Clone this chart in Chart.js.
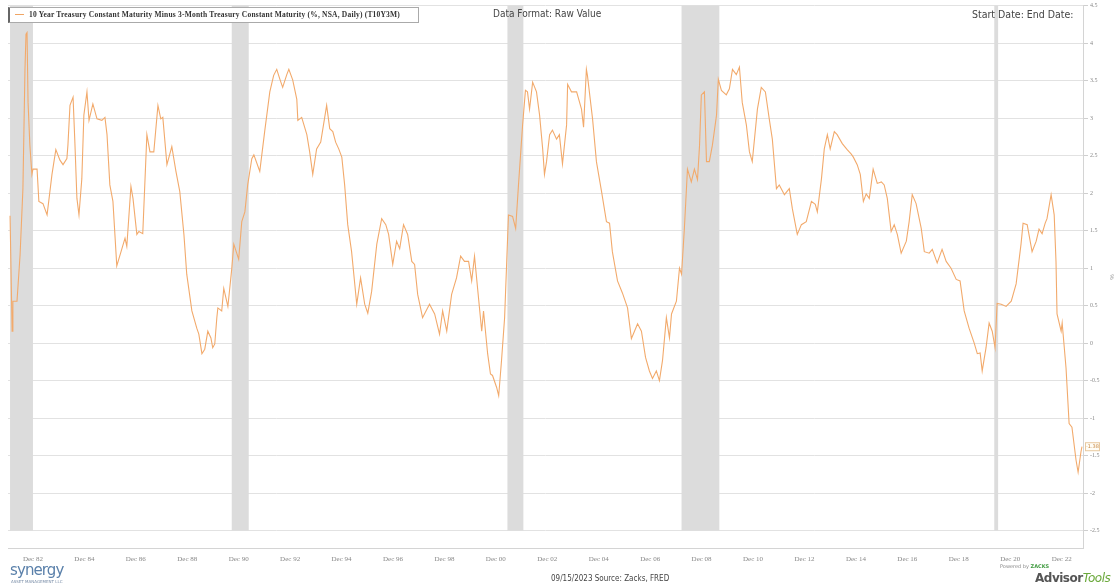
<!DOCTYPE html>
<html>
<head>
<meta charset="utf-8">
<script src="https://cdn.jsdelivr.net/npm/chart.js@4.4.1/dist/chart.umd.min.js"></script>
<style>
  html, body { margin: 0; padding: 0; background: #fff; }
  #wrap { position: relative; width: 1115px; height: 587px; overflow: hidden; }
  #myChart { position: absolute; left: 0; top: 0; }
  .txt { position: absolute; white-space: nowrap; }
  #legend {
    position: absolute; left: 8px; top: 7px; width: 411px; height: 16px;
    background: #fff; border: 1px solid #aaa; border-left: 2px solid #666;
    box-sizing: border-box;
  }
  #legend .swatch { position: absolute; left: 5px; top: 6px; width: 9px; height: 1px; background: rgb(240,165,100); }
  #legend .lbl {
    position: absolute; left: 19px; top: 2px; font: bold 7.5px "Liberation Serif", serif;
    color: #333; letter-spacing: 0.2px;
  }
  .cond { font-family: "Liberation Sans Narrow", "DejaVu Sans Condensed", sans-serif; color: #444; }
</style>
</head>
<body>
<div id="wrap">
  <canvas id="myChart" width="1115" height="587"></canvas>
  <div id="legend"><div class="swatch"></div><div class="lbl">10 Year Treasury Constant Maturity Minus 3-Month Treasury Constant Maturity (%, NSA, Daily) (T10Y3M)</div></div>
  <div class="txt cond" style="left:493px; top:8px; font-size:10px;">Data Format: Raw Value</div>
  <div class="txt cond" style="left:972px; top:8px; font-size:10.5px;">Start Date: End Date:</div>
  <div class="txt" style="left:10px; top:561px; font: 15px 'DejaVu Sans', sans-serif; color:#5a80aa; letter-spacing:-0.9px;">synergy</div>
  <div class="txt" style="left:11px; top:579px; font: 4px 'DejaVu Sans', sans-serif; color:#7a8ea8;">ASSET MANAGEMENT LLC</div>
  <div class="txt cond" style="left:551px; top:574px; font-size:8px;">09/15/2023 Source: Zacks, FRED</div>
  <div class="txt" style="left:1000px; top:563px; font: 5px 'DejaVu Sans', sans-serif; color:#888;">Powered by <b style="color:#3f9a3f;">ZACKS</b></div>
  <div class="txt" style="left:1035px; top:571px; font: bold 12px 'DejaVu Sans', sans-serif; color:#555; letter-spacing:-0.5px;">Advisor<i style="font-weight:normal; color:#6aa83a;">Tools</i></div>
</div>
<script>
// 10年-3ヶ月 スプレッド
const dates = [
  1982.03, 1982.11, 1982.14, 1982.30, 1982.42, 1982.53, 1982.61, 1982.65, 1982.69, 1982.73,
  1982.80, 1982.88, 1982.92, 1983.08, 1983.15, 1983.31, 1983.47, 1983.66, 1983.81, 1983.97,
  1984.09, 1984.24, 1984.28, 1984.36, 1984.48, 1984.55, 1984.63, 1984.71, 1984.82, 1984.90,
  1985.02, 1985.10, 1985.25, 1985.41, 1985.60, 1985.72, 1985.80, 1985.91, 1986.03, 1986.18,
  1986.38, 1986.50, 1986.57, 1986.73, 1986.81, 1986.96, 1987.04, 1987.19, 1987.35, 1987.47,
  1987.62, 1987.78, 1987.89, 1987.97, 1988.13, 1988.32, 1988.48, 1988.63, 1988.79, 1988.90,
  1989.10, 1989.29, 1989.37, 1989.49, 1989.60, 1989.72, 1989.84, 1989.91, 1989.99, 1990.07,
  1990.11, 1990.26, 1990.34, 1990.50, 1990.65, 1990.73, 1990.92, 1991.04, 1991.16, 1991.27,
  1991.43, 1991.51, 1991.74, 1991.93, 1992.13, 1992.28, 1992.40, 1992.52, 1992.63, 1992.79,
  1992.87, 1993.02, 1993.18, 1993.22, 1993.37, 1993.57, 1993.68, 1993.80, 1993.95, 1994.11,
  1994.34, 1994.46, 1994.58, 1994.69, 1994.81, 1994.93, 1995.04, 1995.16, 1995.31, 1995.51,
  1995.66, 1995.82, 1995.94, 1996.09, 1996.29, 1996.48, 1996.64, 1996.75, 1996.91, 1997.06,
  1997.18, 1997.33, 1997.49, 1997.65, 1997.76, 1997.88, 1998.07, 1998.34, 1998.54, 1998.73,
  1998.85, 1999.01, 1999.20, 1999.39, 1999.55, 1999.70, 1999.86, 1999.98, 2000.09, 2000.21,
  2000.37, 2000.44, 2000.60, 2000.71, 2000.79, 2000.95, 2001.03, 2001.14, 2001.26, 2001.41,
  2001.57, 2001.69, 2001.80, 2001.96, 2002.07, 2002.15, 2002.23, 2002.35, 2002.50, 2002.62,
  2002.74, 2002.81, 2002.89, 2003.01, 2003.12, 2003.28, 2003.39, 2003.51, 2003.67, 2003.71,
  2003.86, 2004.06, 2004.25, 2004.33, 2004.44, 2004.48, 2004.68, 2004.83, 2005.03, 2005.22,
  2005.34, 2005.45, 2005.65, 2005.84, 2006.04, 2006.19, 2006.31, 2006.43, 2006.58, 2006.74,
  2006.89, 2007.01, 2007.16, 2007.28, 2007.40, 2007.55, 2007.67, 2007.75, 2007.94, 2008.06,
  2008.14, 2008.25, 2008.37, 2008.52, 2008.64, 2008.76, 2008.84, 2008.91, 2009.03, 2009.11,
  2009.22, 2009.34, 2009.50, 2009.57, 2009.69, 2009.88, 2010.00, 2010.12, 2010.27, 2010.39,
  2010.50, 2010.66, 2010.78, 2010.89, 2011.09, 2011.24, 2011.40, 2011.55, 2011.67, 2011.83,
  2011.94, 2012.14, 2012.33, 2012.45, 2012.64, 2012.80, 2012.99, 2013.19, 2013.34, 2013.42,
  2013.58, 2013.69, 2013.81, 2013.92, 2014.08, 2014.19, 2014.39, 2014.58, 2014.74, 2014.82,
  2014.97, 2015.09, 2015.21, 2015.32, 2015.44, 2015.59, 2015.75, 2015.91, 2016.02, 2016.14,
  2016.29, 2016.41, 2016.53, 2016.68, 2016.88, 2016.99, 2017.11, 2017.26, 2017.46, 2017.58,
  2017.77, 2017.89, 2018.08, 2018.27, 2018.43, 2018.62, 2018.82, 2018.97, 2019.13, 2019.32,
  2019.52, 2019.64, 2019.75, 2019.83, 2019.98, 2020.10, 2020.22, 2020.33, 2020.41, 2020.57,
  2020.76, 2020.96, 2021.15, 2021.34, 2021.42, 2021.58, 2021.77, 2021.93, 2022.04, 2022.16,
  2022.28, 2022.35, 2022.51, 2022.63, 2022.70, 2022.74, 2022.90, 2022.94, 2023.09, 2023.21,
  2023.32, 2023.48, 2023.56, 2023.67, 2023.71
];
const spread = [
  1.70, 0.16, 0.56, 0.56, 1.18, 2.06, 3.65, 4.12, 4.14, 3.21,
  2.64, 2.25, 2.32, 2.32, 1.89, 1.86, 1.71, 2.25, 2.58, 2.44,
  2.38, 2.46, 2.64, 3.17, 3.28, 2.68, 1.93, 1.71, 2.19, 3.04,
  3.35, 2.97, 3.19, 2.99, 2.97, 3.01, 2.78, 2.11, 1.89, 1.03,
  1.26, 1.40, 1.29, 2.09, 1.93, 1.45, 1.49, 1.46, 2.78, 2.55,
  2.55, 3.17, 2.99, 3.01, 2.38, 2.62, 2.29, 2.02, 1.45, 0.92,
  0.43, 0.20, 0.12, -0.14, -0.08, 0.16, 0.07, -0.06, -0.01, 0.34,
  0.47, 0.43, 0.73, 0.49, 0.99, 1.32, 1.12, 1.62, 1.75, 2.11,
  2.46, 2.51, 2.29, 2.82, 3.35, 3.57, 3.65, 3.52, 3.41, 3.58,
  3.65, 3.51, 3.25, 2.97, 3.01, 2.78, 2.55, 2.25, 2.59, 2.68,
  3.17, 2.86, 2.82, 2.68, 2.59, 2.48, 2.11, 1.58, 1.22, 0.52,
  0.87, 0.52, 0.40, 0.69, 1.32, 1.66, 1.58, 1.45, 1.05, 1.36,
  1.26, 1.58, 1.45, 1.09, 1.05, 0.65, 0.34, 0.52, 0.39, 0.12,
  0.43, 0.16, 0.65, 0.87, 1.16, 1.09, 1.09, 0.83, 1.16, 0.73,
  0.16, 0.43, -0.14, -0.41, -0.43, -0.59, -0.70, -0.23, 0.34, 1.71,
  1.69, 1.53, 2.11, 2.91, 3.37, 3.35, 3.12, 3.48, 3.35, 3.04,
  2.59, 2.25, 2.42, 2.78, 2.84, 2.72, 2.78, 2.39, 2.91, 3.45,
  3.35, 3.35, 3.12, 2.88, 3.65, 3.57, 2.99, 2.42, 2.02, 1.62,
  1.60, 1.22, 0.83, 0.67, 0.47, 0.06, 0.16, 0.26, 0.16, -0.19,
  -0.37, -0.47, -0.37, -0.50, -0.23, 0.34, 0.07, 0.39, 0.56, 1.00,
  0.92, 1.53, 2.32, 2.15, 2.32, 2.18, 2.64, 3.31, 3.35, 2.42,
  2.42, 2.64, 3.04, 3.52, 3.37, 3.31, 3.39, 3.65, 3.58, 3.68,
  3.21, 2.91, 2.55, 2.42, 3.12, 3.41, 3.35, 2.99, 2.72, 2.06,
  2.11, 1.98, 2.06, 1.79, 1.45, 1.58, 1.62, 1.89, 1.85, 1.75,
  2.19, 2.59, 2.78, 2.59, 2.82, 2.78, 2.66, 2.58, 2.52, 2.48,
  2.38, 2.25, 1.89, 1.99, 1.93, 2.32, 2.13, 2.15, 2.11, 1.93,
  1.49, 1.58, 1.45, 1.20, 1.36, 1.62, 1.98, 1.86, 1.53, 1.22,
  1.20, 1.25, 1.07, 1.25, 1.09, 1.00, 0.85, 0.83, 0.43, 0.20,
  0.00, -0.14, -0.13, -0.37, -0.06, 0.27, 0.16, -0.06, 0.53, 0.52,
  0.49, 0.56, 0.79, 1.32, 1.60, 1.58, 1.22, 1.36, 1.52, 1.46,
  1.60, 1.66, 1.98, 1.71, 1.09, 0.39, 0.16, 0.27, -0.33, -1.07,
  -1.12, -1.56, -1.72, -1.45, -1.38
];

// 景気後退期（網掛け）
const recStart = [1982.03, 1990.65, 2001.37, 2008.14, 2020.30];
const recEnd = [1982.92, 1991.31, 2001.99, 2009.61, 2020.45];

// 目盛り
const xTickValues = [1982.92, 1984.92, 1986.92, 1988.92, 1990.92, 1992.92, 1994.92, 1996.92, 1998.92, 2000.92,
  2002.92, 2004.92, 2006.92, 2008.92, 2010.92, 2012.92, 2014.92, 2016.92, 2018.92, 2020.92, 2022.92];
const xTickLabels = ['Dec 82', 'Dec 84', 'Dec 86', 'Dec 88', 'Dec 90', 'Dec 92', 'Dec 94', 'Dec 96', 'Dec 98', 'Dec 00',
  'Dec 02', 'Dec 04', 'Dec 06', 'Dec 08', 'Dec 10', 'Dec 12', 'Dec 14', 'Dec 16', 'Dec 18', 'Dec 20', 'Dec 22'];
const yTickValues = [-2.5, -2, -1.5, -1, -0.5, 0, 0.5, 1, 1.5, 2, 2.5, 3, 3.5, 4, 4.5];

const lineColor = 'rgb(242, 170, 108)';

const recessionBands = {
  id: 'recessionBands',
  beforeDatasetsDraw(chart) {
    const { ctx, chartArea, scales } = chart;
    const bottom = scales.y.getPixelForValue(yTickValues[0]);
    ctx.save();
    ctx.fillStyle = '#dcdcdc';
    for (let i = 0; i < recStart.length; i++) {
      const x1 = scales.x.getPixelForValue(recStart[i]);
      const x2 = scales.x.getPixelForValue(recEnd[i]);
      ctx.fillRect(x1, chartArea.top, x2 - x1, bottom - chartArea.top);
    }
    ctx.restore();
  },
};

// 最新値ラベル
const lastValueLabel = {
  id: 'lastValueLabel',
  afterDraw(chart) {
    const { ctx, chartArea, scales } = chart;
    const last = spread[spread.length - 1];
    const y = scales.y.getPixelForValue(last);
    const x = chartArea.right + 2;
    ctx.save();
    ctx.fillStyle = '#fffdf6';
    ctx.strokeStyle = '#e8c9a0';
    ctx.lineWidth = 1;
    ctx.fillRect(x, y - 4.5, 15, 9);
    ctx.strokeRect(x + 0.5, y - 4, 14, 8);
    ctx.fillStyle = '#c98a45';
    ctx.font = '5px "DejaVu Sans", sans-serif';
    ctx.textAlign = 'center';
    ctx.textBaseline = 'middle';
    ctx.fillText(last.toFixed(2), x + 7.5, y);
    ctx.restore();
  },
};

function draw_chart() {
  const points = dates.map((d, i) => ({ x: d, y: spread[i] }));

  const config = {
    type: 'line',
    data: {
      datasets: [
        {
          label: '10 Year Treasury Constant Maturity Minus 3-Month Treasury Constant Maturity (%, NSA, Daily) (T10Y3M)',
          data: points,
          borderColor: lineColor,
          backgroundColor: lineColor,
          borderWidth: 1.1,
          pointRadius: 0,
          tension: 0,
        },
      ],
    },
    options: {
      responsive: false,
      animation: false,
      layout: { padding: { left: 8, top: 3, right: 0, bottom: 0 } },
      plugins: {
        legend: { display: false },
        tooltip: { enabled: false },
      },
      scales: {
        x: {
          type: 'linear',
          min: 1981.95,
          max: 2023.75,
          afterBuildTicks: (scale) => {
            scale.ticks = xTickValues.map((v) => ({ value: v }));
          },
          afterFit: (scale) => {
            scale.height = 39;
          },
          grid: { display: false, drawTicks: false },
          border: { display: true, color: '#d4d4d4' },
          ticks: {
            autoSkip: false,
            maxRotation: 0,
            padding: 7,
            color: '#888',
            font: { family: '"Liberation Serif", serif', size: 7 },
            callback: (v, i) => xTickLabels[i],
          },
        },
        y: {
          position: 'right',
          min: -2.73,
          max: 4.5,
          afterBuildTicks: (scale) => {
            scale.ticks = yTickValues.map((v) => ({ value: v }));
          },
          afterFit: (scale) => {
            scale.width = 32;
          },
          grid: { color: '#e2e2e2', tickLength: 5, tickColor: '#cfcfcf' },
          border: { display: true, color: '#d4d4d4' },
          title: {
            display: true,
            text: '%',
            color: '#999',
            font: { size: 6 },
            padding: 0,
          },
          ticks: {
            padding: 2,
            color: '#888',
            font: { family: '"Liberation Serif", serif', size: 6 },
            callback: (v) => String(v),
          },
        },
      },
    },
    plugins: [recessionBands, lastValueLabel],
  };

  const myChart = new Chart(document.getElementById('myChart'), config);
}

draw_chart();
</script>
</body>
</html>
